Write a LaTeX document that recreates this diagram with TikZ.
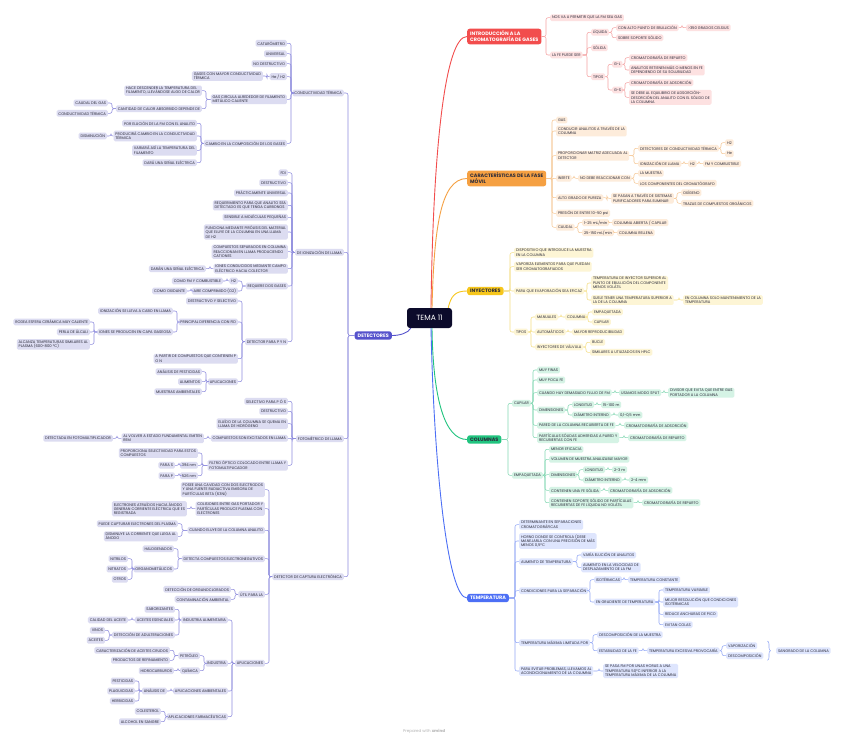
\documentclass[tikz,border=0pt]{standalone}
\usepackage{fontspec}
\setmainfont{Poppins}
\usetikzlibrary{calc,positioning,decorations.pathreplacing}

\definecolor{ink}{HTML}{2B2B3A}
\definecolor{navy}{HTML}{0C0B2B}
\definecolor{cRed}{HTML}{F24D4D}\definecolor{redL}{HTML}{FDE1E1}\definecolor{redC}{HTML}{F5A3A3}
\definecolor{cOrg}{HTML}{F5A042}\definecolor{orgL}{HTML}{FDECDB}\definecolor{orgC}{HTML}{F6C896}
\definecolor{cYel}{HTML}{F6C61C}\definecolor{yelL}{HTML}{FDF5D5}\definecolor{yelC}{HTML}{F5DF85}
\definecolor{cGrn}{HTML}{21C47F}\definecolor{grnL}{HTML}{D5F3E5}\definecolor{grnC}{HTML}{85D8B4}
\definecolor{cBlu}{HTML}{4C6FF5}\definecolor{bluL}{HTML}{DEE5FD}\definecolor{bluC}{HTML}{94A9F6}
\definecolor{cInd}{HTML}{5552CC}\definecolor{indL}{HTML}{DCDCF1}\definecolor{indC}{HTML}{8F8DDE}

\newcommand\fs{\fontsize{3.75}{4.4}\selectfont}
\newcommand\mfs{\fontsize{4.9}{5.9}\selectfont\bfseries}
% links to the right / to the left
\newcommand\rlink[3]{\foreach \ch in {#3}{\draw[#1] (#2.east) -- ($(#2.east -| \ch.west)+(-4,0)$) |- (\ch.west);}}
\newcommand\llink[3]{\foreach \ch in {#3}{\draw[#1] (#2.west) -- ($(#2.west -| \ch.east)+(4,0)$) |- (\ch.east);}}

\begin{document}
\begin{tikzpicture}[x=1pt, y=-1pt,
  leaf/.style={rounded corners=1.5pt, inner xsep=1.8pt, inner ysep=1.4pt, minimum height=6.8pt, font=\fs, align=left, text=ink},
  rdn/.style={leaf, fill=redL, anchor=west},
  ogn/.style={leaf, fill=orgL, anchor=west},
  ywn/.style={leaf, fill=yelL, anchor=west},
  gnn/.style={leaf, fill=grnL, anchor=west},
  bun/.style={leaf, fill=bluL, anchor=west},
  inn/.style={leaf, fill=indL, anchor=east},
  topic/.style={rounded corners=2.5pt, inner xsep=3pt, inner ysep=2.4pt, font=\mfs, align=left},
  link/.style={line width=0.55pt, rounded corners=2pt},
  rdl/.style={link, draw=redC}, ogl/.style={link, draw=orgC}, ywl/.style={link, draw=yelC},
  gnl/.style={link, draw=grnC}, bul/.style={link, draw=bluC}, inl/.style={link, draw=indC},
  curve/.style={line width=0.9pt}
]
\fill[white] (0,0) rectangle (848,740);
\useasboundingbox (0,0) rectangle (848,740);

\node[rounded corners=3pt, fill=navy, text=white, minimum width=45pt, minimum height=20pt, font=\fontsize{7.5}{9}\selectfont] (tema) at (429.5,318) {TEMA 11};

% introduccion
\node[topic, fill=cRed, text=white, anchor=west] (intro) at (467,36.5) {INTRODUCCIÓN A LA\\CROMATOGRAFÍA DE GASES};
\node[rdn] (r1) at (550,17.7) {NOS VA A PERMITIR QUE LA FM SEA GAS};
\node[rdn] (r2) at (550,55) {LA FE PUEDE SER};
\node[rdn] (r21) at (591,32.3) {LÍQUIDA};
\node[rdn] (r22) at (591,47.7) {SÓLIDA};
\node[rdn] (r23) at (591,76.7) {TIPOS};
\node[rdn] (r211) at (616,27.7) {CON ALTO PUNTO DE EBULLICIÓN};
\node[rdn] (r2111) at (686,27.7) {>350 GRADOS CELSIUS};
\node[rdn] (r212) at (616,37.7) {SOBRE SOPORTE SÓLIDO};
\node[rdn] (r231) at (612,64.3) {G-L};
\node[rdn] (r232) at (612,90) {G-S};
\node[rdn] (r2311) at (629,57.7) {CROMATOGRAFÍA DE REPARTO};
\node[rdn] (r2312) at (629,70) {ANALITOS RETIENEN MÁS O MENOS EN FE\\DEPENDIENDO DE SU SOLUBILIDAD};
\node[rdn] (r2321) at (629,82.7) {CROMATOGRAFÍA DE ADSORCIÓN};
\node[rdn] (r2322) at (629,97.3) {SE DEBE AL EQUILIBRIO DE ADSORCIÓN-\\DESORCIÓN DEL ANALITO CON EL SÓLIDO DE\\LA COLUMNA};

% fase movil
\node[topic, fill=cOrg, text=ink, anchor=west] (car) at (467,178.5) {CARACTERÍSTICAS DE LA FASE\\MÓVIL};
\node[ogn] (o1) at (556,120) {GAS};
\node[ogn] (o2) at (556,131) {CONDUCIR ANALITOS A TRAVÉS DE LA\\COLUMNA};
\node[ogn] (o3) at (556,155.7) {PROPORCIONAR MATRIZ ADECUADA AL\\DETECTOR};
\node[ogn] (o4) at (556,178.3) {INERTE};
\node[ogn] (o5) at (556,197.7) {ALTO GRADO DE PUREZA};
\node[ogn] (o6) at (556,213.3) {PRESIÓN DE ENTRE 10-50 psi};
\node[ogn] (o7) at (556,227.3) {CAUDAL};
\node[ogn] (o31) at (638,148.3) {DETECTORES DE CONDUCTIVIDAD TÉRMICA};
\node[ogn] (o311) at (725,142.7) {H2};
\node[ogn] (o312) at (725,153.7) {He};
\node[ogn] (o32) at (638,163.7) {IONIZACIÓN DE LLAMA};
\node[ogn] (o321) at (688,163.7) {H2};
\node[ogn] (o3211) at (703,163.7) {FM Y COMBUSTIBLE};
\node[ogn] (o41) at (578,178.3) {NO DEBE REACCIONAR CON};
\node[ogn] (o411) at (638,173.3) {LA MUESTRA};
\node[ogn] (o412) at (638,183.3) {LOS COMPONENTES DEL CROMATÓGRAFO};
\node[ogn] (o51) at (611,198.3) {SE PASAN A TRAVÉS DE SISTEMAS\\PURIFICADORES PARA ELIMINAR};
\node[ogn] (o511) at (681,192.7) {OXÍGENO};
\node[ogn] (o512) at (681,203.3) {TRAZAS DE COMPUESTOS ORGÁNICOS};
\node[ogn] (o71) at (582,222.7) {1-25 mL/min};
\node[ogn] (o72) at (582,232.7) {25-150 mL/min};
\node[ogn] (o711) at (612,222.7) {COLUMNA ABIERTA / CAPILAR};
\node[ogn] (o721) at (617,232.7) {COLUMNA RELLENA};

% inyectores
\node[topic, fill=cYel, text=ink, anchor=west] (iny) at (467,291) {INYECTORES};
\node[ywn] (y1) at (514,252.7) {DISPOSITIVO QUE INTRODUCE LA MUESTRA\\EN LA COLUMNA};
\node[ywn] (y2) at (514,266.7) {VAPORIZA ELEMENTOS PARA QUE PUEDAN\\SER CROMATOGRAFIADOS};
\node[ywn] (y3) at (514,291) {PARA QUE EVAPORACIÓN SEA EFICAZ};
\node[ywn] (y4) at (514,332) {TIPOS};
\node[ywn] (y31) at (591,283) {TEMPERATURA DE INYECTOR SUPERIOR AL\\PUNTO DE EBULLICIÓN DEL COMPONENTE\\MENOS VOLÁTIL};
\node[ywn] (y32) at (591,300) {SUELE TENER UNA TEMPERATURA SUPERIOR A\\LA DE LA COLUMNA};
\node[ywn] (y321) at (683,300) {EN COLUMNA SOLO MANTENIMIENTO DE LA\\TEMPERATURA};
\node[ywn] (y41) at (535,317) {MANUALES};
\node[ywn] (y42) at (535,332) {AUTOMÁTICOS};
\node[ywn] (y43) at (535,347) {INYECTORES DE VÁLVULA};
\node[ywn] (y411) at (565,317) {COLUMNA};
\node[ywn] (y4111) at (592,312) {EMPAQUETADA};
\node[ywn] (y4112) at (592,322) {CAPILAR};
\node[ywn] (y421) at (572,332) {MAYOR REPRODUCIBILIDAD};
\node[ywn] (y431) at (590,342.3) {BUCLE};
\node[ywn] (y432) at (590,352.3) {SIMILARES A UTILIZADOS EN HPLC};

% columnas
\node[topic, fill=cGrn, text=ink, anchor=west] (col) at (467,439.5) {COLUMNAS};
\node[gnn] (g1) at (512,403.3) {CAPILAR};
\node[gnn] (g2) at (512,475.3) {EMPAQUETADA};
\node[gnn] (g11) at (537,370) {MUY FINAS};
\node[gnn] (g12) at (537,380) {MUY POCA FE};
\node[gnn] (g13) at (537,392.7) {CUANDO HAY DEMASIADO FLUJO DE FM};
\node[gnn] (g131) at (619,392.7) {USAMOS MODO SPLIT};
\node[gnn] (g1311) at (668,392.7) {DIVISOR QUE EVITA QUE ENTRE GAS\\PORTADOR A LA COLUMNA};
\node[gnn] (g14) at (537,410) {DIMENSIONES};
\node[gnn] (g141) at (572,404.7) {LONGITUD};
\node[gnn] (g1411) at (601,404.7) {15-100 m};
\node[gnn] (g142) at (572,415) {DIÁMETRO INTERNO};
\node[gnn] (g1421) at (618,415) {0,1-0,5 mm};
\node[gnn] (g15) at (537,425.3) {PARED DE LA COLUMNA RECUBIERTA DE FE};
\node[gnn] (g151) at (624,425.3) {CROMATOGRAFÍA DE ADSORCIÓN};
\node[gnn] (g16) at (537,437.7) {PARTÍCULAS SÓLIDAS ADHERIDAS A PARED Y\\RECUBIERTAS CON FE};
\node[gnn] (g161) at (628,437.7) {CROMATOGRAFÍA DE REPARTO};
\node[gnn] (g21) at (549,449.3) {MENOR EFICACIA};
\node[gnn] (g22) at (549,459.3) {VOLUMEN DE MUESTRA ANALIZABLE MAYOR};
\node[gnn] (g23) at (549,474.7) {DIMENSIONES};
\node[gnn] (g231) at (583,469.7) {LONGITUD};
\node[gnn] (g2311) at (612,469.7) {2-3 m};
\node[gnn] (g232) at (583,480) {DIÁMETRO INTERNO};
\node[gnn] (g2321) at (629,480) {2-4 mm};
\node[gnn] (g24) at (549,490.3) {CONTIENEN UNA FE SÓLIDA};
\node[gnn] (g241) at (608,490.3) {CROMATOGRAFÍA DE ADSORCIÓN};
\node[gnn] (g25) at (549,502.7) {CONTIENEN SOPORTE SÓLIDO DE PARTÍCULAS\\RECUBIERTAS DE FE LÍQUIDA NO VOLÁTIL};
\node[gnn] (g251) at (642,502.7) {CROMATOGRAFÍA DE REPARTO};

% temperatura
\node[topic, fill=cBlu, text=white, anchor=west] (tem) at (467,598) {TEMPERATURA};
\node[bun] (b1) at (519,524.7) {DETERMINANTE EN SEPARACIONES\\CROMATOGRÁFICAS};
\node[bun] (b2) at (519,541) {HORNO DONDE SE CONTROLA (DEBE\\MANEJARLA CON UNA PRECISIÓN DE MÁS\\MENOS 0,5ºC};
\node[bun] (b3) at (519,561.7) {AUMENTO DE TEMPERATURA};
\node[bun] (b31) at (581,555) {VARÍA ELUCIÓN DE ANALITOS};
\node[bun] (b32) at (581,567.3) {AUMENTO EN LA VELOCIDAD DE\\DESPLAZAMIENTO DE LA FM};
\node[bun] (b4) at (519,590.7) {CONDICIONES PARA LA SEPARACIÓN};
\node[bun] (b41) at (594,579.7) {ISOTÉRMICAS};
\node[bun] (b411) at (628,579.7) {TEMPERATURA CONSTANTE};
\node[bun] (b42) at (594,602) {EN GRADIENTE DE TEMPERATURA};
\node[bun] (b421) at (663,590) {TEMPERATURA VARIABLE};
\node[bun] (b422) at (663,602) {MEJOR RESOLUCIÓN QUE CONDICIONES\\ISOTÉRMICAS};
\node[bun] (b423) at (663,614.3) {REDUCE ANCHURAS DE PICO};
\node[bun] (b424) at (663,624.7) {EVITAN COLAS};
\node[bun] (b5) at (519,642.7) {TEMPERATURA MÁXIMA LIMITADA POR};
\node[bun] (b51) at (597,634.7) {DESCOMPOSICIÓN DE LA MUESTRA};
\node[bun] (b52) at (597,650.7) {ESTABILIDAD DE LA FE};
\node[bun] (b521) at (647,650.7) {TEMPERATURA EXCESIVA PROVOCARÍA};
\node[bun] (b5211) at (726,645.7) {VAPORIZACIÓN};
\node[bun] (b5212) at (726,655.7) {DESCOMPOSICIÓN};
\node[bun] (sangr) at (776,650.7) {SANGRADO DE LA COLUMNA};
\node[bun] (b6) at (519,671) {PARA EVITAR PROBLEMAS, LLEVAMOS AL\\ACONDICIONAMIENTO DE LA COLUMNA};
\node[bun] (b61) at (603,671) {SE PASA FM POR UNAS HORAS A UNA\\TEMPERATURA 50ºC INFERIOR A LA\\TEMPERATURA MÁXIMA DE LA COLUMNA};

% detectores
\node[topic, fill=cInd, text=white, anchor=east] (det) at (392,335.5) {DETECTORES};
\node[inn] (d1) at (344,93) {CONDUCTIVIDAD TÉRMICA};
\node[inn] (d2) at (344,252.3) {DE IONIZACIÓN DE LLAMA};
\node[inn] (d3) at (344,438.7) {FOTOMÉTRICO DE LLAMA};
\node[inn] (d4) at (344,576.7) {DETECTOR DE CAPTURA ELECTRÓNICA};

\node[inn] (d11) at (287,43.3) {CATARÓMETRO};
\node[inn] (d12) at (287,53.7) {UNIVERSAL};
\node[inn] (d13) at (287,63.7) {NO DESTRUCTIVO};
\node[inn] (d14) at (287,76.7) {He / H2};
\node[inn] (d15) at (287,99.3) {GAS CIRCULA ALREDEDOR DE FILAMENTO\\METÁLICO CALIENTE};
\node[inn] (d16) at (287,143.3) {CAMBIO EN LA COMPOSICIÓN DE LOS GASES};
\node[inn] (d141) at (263,76) {GASES CON MAYOR CONDUCTIVIDAD\\TÉRMICA};
\node[inn] (d151) at (202,90.7) {HACE DESCENDER LA TEMPERATURA DEL\\FILAMENTO, LLEVÁNDOSE ALGO DE CALOR};
\node[inn] (d152) at (202,108.7) {CANTIDAD DE CALOR ABSORBIDO DEPENDE DE};
\node[inn] (d1521) at (108,103) {CAUDAL DEL GAS};
\node[inn] (d1522) at (108,113.3) {CONDUCTIVIDAD TÉRMICA};
\node[inn] (d161) at (197,123.3) {POR ELUCIÓN DE LA FM CON EL ANALITO};
\node[inn] (d162) at (197,136) {PRODUCIRÁ CAMBIO EN LA CONDUCTIVIDAD\\TÉRMICA};
\node[inn] (d1621) at (107,136) {DISMINUCIÓN};
\node[inn] (d163) at (197,150.3) {VARIARÁ ASÍ LA TEMPERATURA DEL\\FILAMENTO};
\node[inn] (d164) at (197,162.7) {DARÁ UNA SEÑAL ELÉCTRICA};

\node[inn] (d21) at (288,172.7) {FDI};
\node[inn] (d22) at (288,182.7) {DESTRUCTIVO};
\node[inn] (d23) at (288,193) {PRÁCTICAMENTE UNIVERSAL};
\node[inn] (d24) at (288,205.3) {REQUERIMIENTO PARA QUE ANALITO SEA\\DETECTADO ES QUE TENGA CARBONOS};
\node[inn] (d25) at (288,217.3) {SENSIBLE A MOLÉCULAS PEQUEÑAS};
\node[inn] (d26) at (288,232) {FUNCIONA MEDIANTE PIRÓLISIS DEL MATERIAL\\QUE ELUYE DE LA COLUMNA EN UNA LLAMA\\DE H2};
\node[inn] (d27) at (288,251.7) {COMPUESTOS SEPARADOS EN COLUMNA\\REACCIONAN EN LLAMA PRODUCIENDO\\CATIONES};
\node[inn] (d28) at (288,268.7) {IONES CONDUCIDOS MEDIANTE CAMPO\\ELÉCTRICO HACIA COLECTOR};
\node[inn] (d29) at (288,286) {REQUIERE DOS GASES};
\node[inn] (d20) at (288,341.7) {DETECTOR PARA P Y N};
\node[inn] (d281) at (206,268.7) {DARÁN UNA SEÑAL ELÉCTRICA};
\node[inn] (d291) at (238,281) {H2};
\node[inn] (d292) at (238,291) {AIRE COMPRIMIDO (O2)};
\node[inn] (d2911) at (223,281) {COMO FM Y COMBUSTIBLE};
\node[inn] (d2921) at (187,291) {COMO OXIDANTE};
\node[inn] (d201) at (238,301) {DESTRUCTIVO Y SELECTIVO};
\node[inn] (d202) at (238,322) {PRINCIPAL DIFERENCIA CON FID};
\node[inn] (d203) at (238,358.7) {A PARTIR DE COMPUESTOS QUE CONTIENEN P\\O N};
\node[inn] (d204) at (238,381.7) {APLICACIONES};
\node[inn] (d2021) at (173,311) {IONIZACIÓN SE LLEVA A CABO EN LLAMA};
\node[inn] (d2022) at (173,332) {IONES SE PRODUCEN EN CAPA GASEOSA};
\node[inn] (d20221) at (90,322) {RODEA ESFERA CERÁMICA MUY CALIENTE};
\node[inn] (d20222) at (90,332) {PERLA DE ÁLCALI};
\node[inn] (d20223) at (90,344.3) {ALCANZA TEMPERATURAS SIMILARES AL\\PLASMA (600-800 ºC)};
\node[inn] (d2041) at (202,371.7) {ANÁLISIS DE PESTICIDAS};
\node[inn] (d2042) at (202,381.7) {ALIMENTOS};
\node[inn] (d2043) at (202,391.7) {MUESTRAS AMBIENTALES};

\node[inn] (d31) at (288,401.3) {SELECTIVO PARA P Ó S};
\node[inn] (d32) at (288,411.3) {DESTRUCTIVO};
\node[inn] (d33) at (288,423.7) {ELUÍDO DE LA COLUMNA SE QUEMA EN\\LLAMA DE HIDRÓGENO};
\node[inn] (d34) at (288,438.3) {COMPUESTOS SON EXCITADOS EN LLAMA};
\node[inn] (d35) at (288,465.3) {FILTRO ÓPTICO COLOCADO ENTRE LLAMA Y\\FOTOMULTIPLICADOR};
\node[inn] (d341) at (204,438.3) {AL VOLVER A ESTADO FUNDAMENTAL EMITEN\\REM};
\node[inn] (d3411) at (113,438.3) {DETECTADA EN FOTOMULTIPLICADOR};
\node[inn] (d351) at (198,453) {PROPORCIONA SELECTIVIDAD PARA ESTOS\\COMPUESTOS};
\node[inn] (d352) at (198,465.3) {394 nm};
\node[inn] (d353) at (198,475.7) {526 nm};
\node[inn] (d3521) at (175,465.3) {PARA S};
\node[inn] (d3531) at (175,475.7) {PARA P};

\node[inn] (d41) at (265,489.7) {POSEE UNA CAVIDAD CON DOS ELECTRODOS\\Y UNA FUENTE RADIACTIVA EMISORA DE\\PARTÍCULAS BETA (63Ni)};
\node[inn] (d42) at (265,508.7) {COLISIONES ENTRE GAS PORTADOR Y\\PARTÍCULAS PRODUCE PLASMA CON\\ELECTRONES};
\node[inn] (d43) at (265,530.3) {CUANDO ELUYE DE LA COLUMNA ANALITO};
\node[inn] (d44) at (265,558.7) {DETECTA COMPUESTOS ELECTRONEGATIVOS};
\node[inn] (d45) at (265,594.3) {ÚTIL PARA LA};
\node[inn] (d46) at (265,663.3) {APLICACIONES};
\node[inn] (d421) at (187,508.7) {ELECTRONES ATRAÍDOS HACIA ÁNODO\\GENERAN CORRIENTE ELÉCTRICA QUE ES\\REGISTRADA};
\node[inn] (d431) at (178,523.7) {PUEDE CAPTURAR ELECTRONES DEL PLASMA};
\node[inn] (d432) at (178,536.3) {DISMINUYE LA CORRIENTE QUE LLEGA AL\\ÁNODO};
\node[inn] (d441) at (174,548.7) {HALOGENADOS};
\node[inn] (d442) at (174,569) {ORGANOMETÁLICOS};
\node[inn] (d4421) at (128,558.7) {NITRILOS};
\node[inn] (d4422) at (128,569) {NITRATOS};
\node[inn] (d4423) at (128,579.3) {OTROS};
\node[inn] (d451) at (231,589.3) {DETECCIÓN DE ORGANOCLORADOS};
\node[inn] (d452) at (231,599.3) {CONTAMINACIÓN AMBIENTAL};
\node[inn] (d461) at (228,620) {INDUSTRIA ALIMENTARIA};
\node[inn] (d462) at (228,663.3) {INDUSTRIA};
\node[inn] (d463) at (228,691) {APLICACIONES AMBIENTALES};
\node[inn] (d464) at (228,716.7) {APLICACIONES FARMACÉUTICAS};
\node[inn] (d4611) at (175,609.3) {SABORIZANTES};
\node[inn] (d4612) at (175,620) {ACEITES ESENCIALES};
\node[inn] (d4613) at (175,635) {DETECCIÓN DE ADULTERACIONES};
\node[inn] (d46121) at (128,620) {CALIDAD DEL ACEITE};
\node[inn] (d46131) at (105,630.3) {VINOS};
\node[inn] (d46132) at (105,640.3) {ACEITES};
\node[inn] (d4621) at (200,655.7) {PETRÓLEO};
\node[inn] (d4622) at (200,670.7) {QUÍMICA};
\node[inn] (d46211) at (170,650.3) {CARACTERIZACIÓN DE ACEITES CRUDOS};
\node[inn] (d46212) at (170,660.3) {PRODUCTOS DE REFINAMIENTO};
\node[inn] (d46221) at (174,670.7) {HIDROCARBUROS};
\node[inn] (d4631) at (167,691) {ANÁLISIS DE};
\node[inn] (d46311) at (135,681) {PESTICIDAS};
\node[inn] (d46312) at (135,691) {PLAGUICIDAS};
\node[inn] (d46313) at (135,701) {HERBICIDAS};
\node[inn] (d4641) at (161,711.3) {COLESTEROL};
\node[inn] (d4642) at (161,721.7) {ALCOHOL EN SANGRE};

\node[text=black!30, font=\fontsize{4}{5}\selectfont] (mark) at (424,731) {Prepared with \textbf{xmind}};

% branches from the centre
\draw[curve, draw=cRed] ([xshift=1.5pt]tema.north) .. controls (433,150) and (445,36.5) .. (intro.west);
\draw[curve, draw=cOrg] ([xshift=2.5pt]tema.north) .. controls (434,230) and (440,178.5) .. (car.west);
\draw[curve, draw=cYel] ([xshift=-4pt]tema.north east) .. controls (451,296) and (455,291) .. (iny.west);
\draw[curve, draw=cGrn] ([xshift=2.5pt]tema.south) .. controls (433,400) and (445,439.5) .. (col.west);
\draw[curve, draw=cBlu] ([xshift=1.5pt]tema.south) .. controls (434,470) and (448,598) .. (tem.west);
\draw[curve, draw=cInd] ([xshift=4pt]tema.south west) .. controls (408,333) and (400,335.5) .. (det.east);

\rlink{rdl}{intro}{r1,r2}
\rlink{rdl}{r2}{r21,r22,r23}
\rlink{rdl}{r21}{r211,r212}
\rlink{rdl}{r211}{r2111}
\rlink{rdl}{r23}{r231,r232}
\rlink{rdl}{r231}{r2311,r2312}
\rlink{rdl}{r232}{r2321,r2322}

\rlink{ogl}{car}{o1,o2,o3,o4,o5,o6,o7}
\rlink{ogl}{o3}{o31,o32}
\rlink{ogl}{o31}{o311,o312}
\rlink{ogl}{o32}{o321}
\rlink{ogl}{o321}{o3211}
\rlink{ogl}{o4}{o41}
\rlink{ogl}{o41}{o411,o412}
\rlink{ogl}{o5}{o51}
\rlink{ogl}{o51}{o511,o512}
\rlink{ogl}{o7}{o71,o72}
\rlink{ogl}{o71}{o711}
\rlink{ogl}{o72}{o721}

\rlink{ywl}{iny}{y1,y2,y3,y4}
\rlink{ywl}{y3}{y31,y32}
\rlink{ywl}{y32}{y321}
\rlink{ywl}{y4}{y41,y42,y43}
\rlink{ywl}{y41}{y411}
\rlink{ywl}{y411}{y4111,y4112}
\rlink{ywl}{y42}{y421}
\rlink{ywl}{y43}{y431,y432}

\rlink{gnl}{col}{g1,g2}
\rlink{gnl}{g1}{g11,g12,g13,g14,g15,g16}
\rlink{gnl}{g13}{g131}
\rlink{gnl}{g131}{g1311}
\rlink{gnl}{g14}{g141,g142}
\rlink{gnl}{g141}{g1411}
\rlink{gnl}{g142}{g1421}
\rlink{gnl}{g15}{g151}
\rlink{gnl}{g16}{g161}
\rlink{gnl}{g2}{g21,g22,g23,g24,g25}
\rlink{gnl}{g23}{g231,g232}
\rlink{gnl}{g231}{g2311}
\rlink{gnl}{g232}{g2321}
\rlink{gnl}{g24}{g241}
\rlink{gnl}{g25}{g251}

\rlink{bul}{tem}{b1,b2,b3,b4,b5,b6}
\rlink{bul}{b3}{b31,b32}
\rlink{bul}{b4}{b41,b42}
\rlink{bul}{b41}{b411}
\rlink{bul}{b42}{b421,b422,b423,b424}
\rlink{bul}{b5}{b51,b52}
\rlink{bul}{b52}{b521}
\rlink{bul}{b521}{b5211,b5212}
\rlink{bul}{b6}{b61}
\coordinate (bt) at ($(b5212.east |- b5211.north)+(4,-1)$);
\coordinate (bb) at ($(b5212.south east)+(4,1)$);
\draw[draw=bluC, line width=0.55pt, decorate, decoration={brace, amplitude=3pt}] (bt) -- (bb);

\llink{inl}{det}{d1,d2,d3,d4}
\llink{inl}{d1}{d11,d12,d13,d14,d15,d16}
\llink{inl}{d14}{d141}
\llink{inl}{d15}{d151,d152}
\llink{inl}{d152}{d1521,d1522}
\llink{inl}{d16}{d161,d162,d163,d164}
\llink{inl}{d162}{d1621}
\llink{inl}{d2}{d21,d22,d23,d24,d25,d26,d27,d28,d29,d20}
\llink{inl}{d28}{d281}
\llink{inl}{d29}{d291,d292}
\llink{inl}{d291}{d2911}
\llink{inl}{d292}{d2921}
\llink{inl}{d20}{d201,d202,d203,d204}
\llink{inl}{d202}{d2021,d2022}
\llink{inl}{d2022}{d20221,d20222,d20223}
\llink{inl}{d204}{d2041,d2042,d2043}
\llink{inl}{d3}{d31,d32,d33,d34,d35}
\llink{inl}{d34}{d341}
\llink{inl}{d341}{d3411}
\llink{inl}{d35}{d351,d352,d353}
\llink{inl}{d352}{d3521}
\llink{inl}{d353}{d3531}
\llink{inl}{d4}{d41,d42,d43,d44,d45,d46}
\llink{inl}{d42}{d421}
\llink{inl}{d43}{d431,d432}
\llink{inl}{d44}{d441,d442}
\llink{inl}{d442}{d4421,d4422,d4423}
\llink{inl}{d45}{d451,d452}
\llink{inl}{d46}{d461,d462,d463,d464}
\llink{inl}{d461}{d4611,d4612,d4613}
\llink{inl}{d4612}{d46121}
\llink{inl}{d4613}{d46131,d46132}
\llink{inl}{d462}{d4621,d4622}
\llink{inl}{d4621}{d46211,d46212}
\llink{inl}{d4622}{d46221}
\llink{inl}{d463}{d4631}
\llink{inl}{d4631}{d46311,d46312,d46313}
\llink{inl}{d464}{d4641,d4642}
\end{tikzpicture}
\end{document}
